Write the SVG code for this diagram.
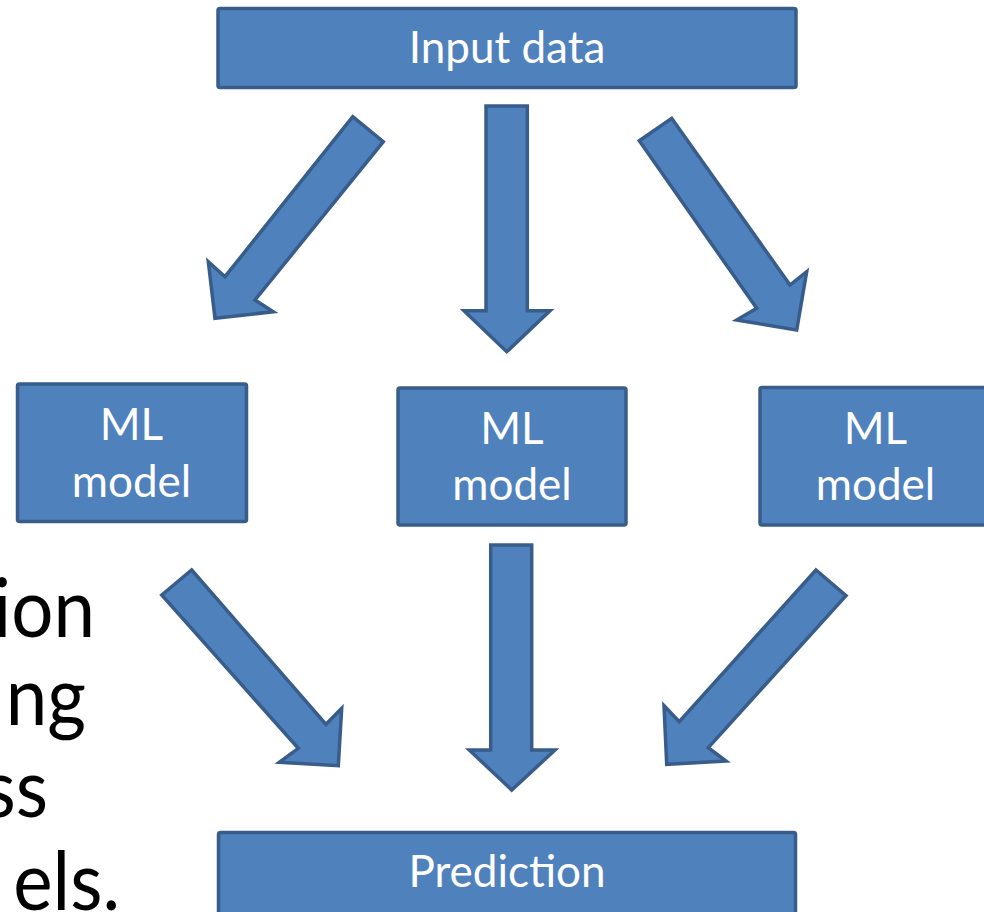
<svg xmlns="http://www.w3.org/2000/svg" width="984" height="912" viewBox="0 0 984 912">
<style>
.box{fill:#4F81BD;stroke:#385D8A;stroke-width:3.5}
.arr{fill:#4F81BD;stroke:#385D8A;stroke-width:3.5;stroke-linejoin:miter}
.lbl{font-family:Lato,"Liberation Sans",sans-serif;font-size:44px;fill:#FFFFFF;text-anchor:middle}
.big{font-family:Lato,"Liberation Sans",sans-serif;font-size:81px;fill:#000000;text-anchor:end}
</style>
<rect width="984" height="912" fill="#FFFFFF"/>
<g id="side-text">
<text class="big" transform="translate(95,637) scale(0.92,1)">ion</text>
<text class="big" transform="translate(86,725) scale(0.92,1)">ng</text>
<text class="big" transform="translate(48,817) scale(0.92,1)">ss</text>
<text class="big" transform="translate(120,910) scale(0.92,1)">els.</text>
</g>
<g id="input-data">
<rect class="box" x="218" y="8.5" width="578" height="79" rx="2"/>
<text class="lbl" x="507" y="63">Input data</text>
</g>
<g id="ml-model-left">
<rect class="box" x="17.5" y="384" width="229" height="137.5" rx="2"/>
<text class="lbl" x="131.5" y="440">ML</text>
<text class="lbl" x="131.5" y="496.5">model</text>
</g>
<g id="ml-model-center">
<rect class="box" x="398" y="388" width="228" height="137" rx="2"/>
<text class="lbl" x="512" y="443.5">ML</text>
<text class="lbl" x="512" y="500">model</text>
</g>
<g id="ml-model-right">
<rect class="box" x="760" y="387.5" width="232" height="137.5" rx="2"/>
<text class="lbl" x="875.5" y="443.5">ML</text>
<text class="lbl" x="875.5" y="500">model</text>
</g>
<g id="prediction">
<rect class="box" x="218.5" y="832.5" width="577" height="85" rx="2"/>
<text class="lbl" x="507" y="887">Prediction</text>
</g>
<g id="connectors">
<polygon class="arr" points="352.7,116.7 383.3,141.7 255,300 273.3,311.7 215,318.3 208.3,261.7 225,276.7"/>
<polygon class="arr" points="486,106 527.3,106 527.3,310.7 550,310.7 506.7,351.7 464,310.7 486,310.7"/>
<polygon class="arr" points="639.3,140.7 671.7,118.3 790,285 806.7,271.7 796.7,330 736.7,320 756.7,308.3"/>
<polygon class="arr" points="161.7,595 191.7,570 326,724.3 341.7,708.3 338.3,765.7 279.3,762.3 298.3,748.3"/>
<polygon class="arr" points="490.7,545 531.7,545 531.7,750 555,750 511.7,790 469.3,750 490.7,750"/>
<polygon class="arr" points="816,570 846,595.7 708.3,747.7 726,761 666.7,764.3 664,705.7 679.3,721.7"/>
</g>
</svg>
